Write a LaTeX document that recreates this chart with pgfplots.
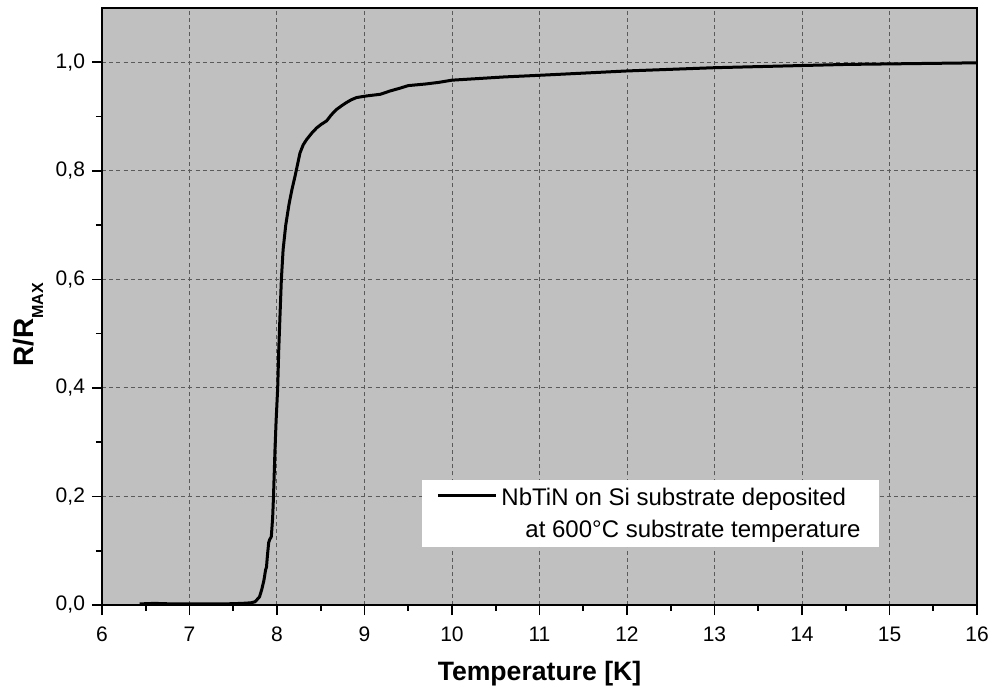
\documentclass[border=0pt]{standalone}
\usepackage{pgfplots}
\pgfplotsset{compat=1.18}
\usepackage{fontspec}
\setmainfont{Liberation Sans}
\definecolor{bggray}{RGB}{192,192,192}
\definecolor{gridgray}{RGB}{90,90,90}
\begin{document}
\begin{tikzpicture}
\begin{axis}[
  scale only axis,
  width=437.5pt, height=298.5pt,
  xmin=6, xmax=16, ymin=0, ymax=1.1,
  axis background/.style={fill=bggray},
  axis line style={line width=1pt},
  xtick={6,7,...,16},
  ytick={0,0.2,0.4,0.6,0.8,1.0},
  minor x tick num=1,
  minor y tick num=1,
  tick align=outside,
  xtick pos=bottom, ytick pos=left,
  major tick length=5pt, minor tick length=3pt,
  every tick/.style={line width=0.8pt, black},
  grid=major,
  major grid style={gridgray, line width=0.5pt, dash pattern=on 2pt off 1.6pt},
  /pgf/number format/assume math mode=true,
  yticklabel style={/pgf/number format/.cd, use comma, fixed, fixed zerofill, precision=1},
  xticklabel style={yshift=-2.5pt},
  ticklabel style={font=\fontsize{10.5}{12}\selectfont},
  xlabel={Temperature [K]},
  ylabel={R/R\raisebox{-5pt}{\fontsize{8}{8}\selectfont\bfseries MAX}},
  xlabel style={font=\fontsize{13.3}{15}\selectfont\bfseries, at={(axis description cs:0.5,-0.1155)}, anchor=center},
  ylabel style={font=\fontsize{14}{16}\selectfont\bfseries, at={(axis description cs:-0.0846,0.469)}, anchor=center},
  legend style={at={(axis description cs:0.888,0.097)}, anchor=south east, fill=white, draw=none,
    font=\fontsize{12}{14}\selectfont, inner xsep=7pt, inner ysep=1pt},
  legend cell align=left,
  legend image code/.code={\draw[line width=1.5pt,black] (0pt,9.1pt) -- (29pt,9.1pt);},
]
\addplot[black, line width=1.5pt, line join=round] coordinates {
(6.43,0.002) (6.6,0.003) (6.8,0.002) (7.0,0.002) (7.2,0.002) (7.4,0.002)
(7.6,0.003) (7.7,0.004) (7.75,0.006) (7.8,0.015) (7.825,0.028) (7.85,0.045)
(7.87,0.065) (7.88,0.070) (7.89,0.09) (7.905,0.115) (7.915,0.12) (7.935,0.126)
(7.95,0.16) (7.96,0.2) (7.977,0.286) (7.99,0.34) (8.008,0.40) (8.02,0.47)
(8.034,0.532) (8.05,0.60) (8.07,0.655) (8.10,0.70) (8.137,0.738) (8.17,0.765)
(8.206,0.790) (8.263,0.833) (8.30,0.848) (8.34,0.858) (8.40,0.870) (8.453,0.879)
(8.50,0.885) (8.567,0.892) (8.62,0.903) (8.68,0.913) (8.74,0.920) (8.796,0.926)
(8.85,0.931) (8.91,0.935) (9.025,0.938) (9.18,0.941) (9.29,0.947) (9.4,0.952)
(9.5,0.957) (9.7,0.960) (9.85,0.963) (10,0.967) (10.3,0.970) (10.6,0.973)
(11,0.976) (11.5,0.980) (12,0.984) (12.5,0.987) (13,0.990) (13.5,0.992)
(14,0.994) (14.5,0.996) (15,0.997) (15.5,0.998) (16,0.999)
};
\addlegendentry{\begin{tabular}[b]{@{}l@{}}NbTiN on Si substrate deposited\\[2pt]\hspace*{12pt}at 600°C substrate temperature\end{tabular}}
\end{axis}
\pgfresetboundingbox
\path (current axis.south west) ++(-51pt,-43pt) coordinate (bbA);
\path (current axis.north east) ++(7.5pt,4pt) coordinate (bbB);
\useasboundingbox (bbA) rectangle (bbB);
\end{tikzpicture}
\end{document}
